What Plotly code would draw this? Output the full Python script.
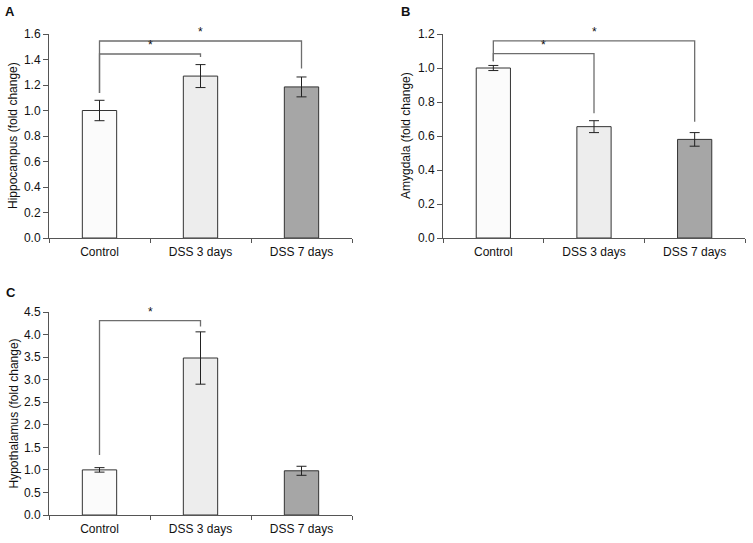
import plotly.graph_objects as go

categories = ["Control", "DSS 3 days", "DSS 7 days"]
bar_colors = ["#fbfbfb", "#ededed", "#a6a6a6"]

hippo_vals = [1.0, 1.27, 1.185]
hippo_err = [0.08, 0.09, 0.078]
amyg_vals = [1.0, 0.655, 0.58]
amyg_err = [0.015, 0.035, 0.04]
hypo_vals = [1.0, 3.48, 0.98]
hypo_err = [0.05, 0.58, 0.10]

# significance brackets: (left idx, right idx, level, left foot, right foot)
hippo_brackets = [(0, 1, 1.443, 1.137, 1.42), (0, 2, 1.545, 1.137, 1.33)]
amyg_brackets = [(0, 1, 1.084, 1.04, 0.734), (0, 2, 1.159, 1.04, 0.684)]
hypo_brackets = [(0, 1, 4.31, 1.33, 4.18)]

W, H = 753, 543

def px(x):
    return x / W

def py(y):
    return 1 - y / H

panels = [
    dict(name="A", vals=hippo_vals, err=hippo_err, br=hippo_brackets,
         xd=[px(49), px(352)], yd=[py(238), py(34)], rng=[0, 1.6], dt=0.2,
         title="Hippocampus (fold change)", tx=13, lab=(10, 12)),
    dict(name="B", vals=amyg_vals, err=amyg_err, br=amyg_brackets,
         xd=[px(443), px(745)], yd=[py(238), py(34)], rng=[0, 1.2], dt=0.2,
         title="Amygdala (fold change)", tx=406, lab=(405, 12)),
    dict(name="C", vals=hypo_vals, err=hypo_err, br=hypo_brackets,
         xd=[px(49), px(352)], yd=[py(515), py(312)], rng=[0, 4.5], dt=0.5,
         title="Hypothalamus (fold change)", tx=13, lab=(11, 292)),
]

fig = go.Figure()
shapes = []
annotations = []
font = "Arial, Liberation Sans, sans-serif"
line_col = "#6e6e6e"

for i, p in enumerate(panels):
    k = "" if i == 0 else str(i + 1)
    xa, ya = "x" + k, "y" + k
    fig.add_trace(go.Bar(
        x=categories, y=p["vals"], xaxis=xa, yaxis=ya,
        marker=dict(color=bar_colors, line=dict(color="#333333", width=1)),
        width=0.34,
        error_y=dict(type="data", array=p["err"], visible=True,
                     color="#222222", thickness=1, width=5),
        showlegend=False, hoverinfo="skip",
    ))
    fig.layout["xaxis" + k] = dict(
        domain=p["xd"], anchor=ya, range=[-0.5, 2.5], showline=True,
        linecolor="#555555", linewidth=1, ticks="outside", tickson="boundaries",
        ticklen=4, tickcolor="#555555", showgrid=False, ticklabelstandoff=3,
        automargin=False,
        tickfont=dict(family=font, size=12, color="#111111"), fixedrange=True,
    )
    fig.layout["yaxis" + k] = dict(
        domain=p["yd"], anchor=xa, range=p["rng"], dtick=p["dt"], tick0=0,
        tickformat=".1f", showline=True, linecolor="#555555", linewidth=1,
        ticks="outside", ticklen=5, tickcolor="#555555", showgrid=False,
        zeroline=False, automargin=False,
        tickfont=dict(family=font, size=12, color="#111111"),
        fixedrange=True,
    )
    for (a, b, lvl, fa, fb) in p["br"]:
        xr = "x" + k
        yr = "y" + k
        shapes.append(dict(type="path", xref=xr, yref=yr,
                           path=f"M {a},{fa} L {a},{lvl} L {b},{lvl} L {b},{fb}",
                           line=dict(color=line_col, width=1.3)))
        annotations.append(dict(x=(a + b) / 2, y=lvl, xref=xr, yref=yr,
                                text="*", showarrow=False, yanchor="bottom",
                                xanchor="center", yshift=0,
                                font=dict(family=font, size=12, color="#111111")))
    annotations.append(dict(x=px(p["tx"]), y=(p["yd"][0] + p["yd"][1]) / 2,
                            xref="paper", yref="paper", text=p["title"],
                            textangle=-90, showarrow=False,
                            xanchor="center", yanchor="middle",
                            font=dict(family=font, size=12, color="#111111")))
    annotations.append(dict(x=px(p["lab"][0]), y=py(p["lab"][1]),
                            xref="paper", yref="paper", text="<b>" + p["name"] + "</b>",
                            showarrow=False, xanchor="center", yanchor="middle",
                            font=dict(family=font, size=13, color="#111111")))

fig.update_layout(
    width=W, height=H, margin=dict(l=0, r=0, t=0, b=0, pad=0, autoexpand=False),
    paper_bgcolor="white", plot_bgcolor="white",
    shapes=shapes, annotations=annotations, bargap=0.66,
)

fig.write_html("out.html", config={"displayModeBar": False},
               post_script="document.body.style.margin='0px';document.body.style.overflow='hidden';")
